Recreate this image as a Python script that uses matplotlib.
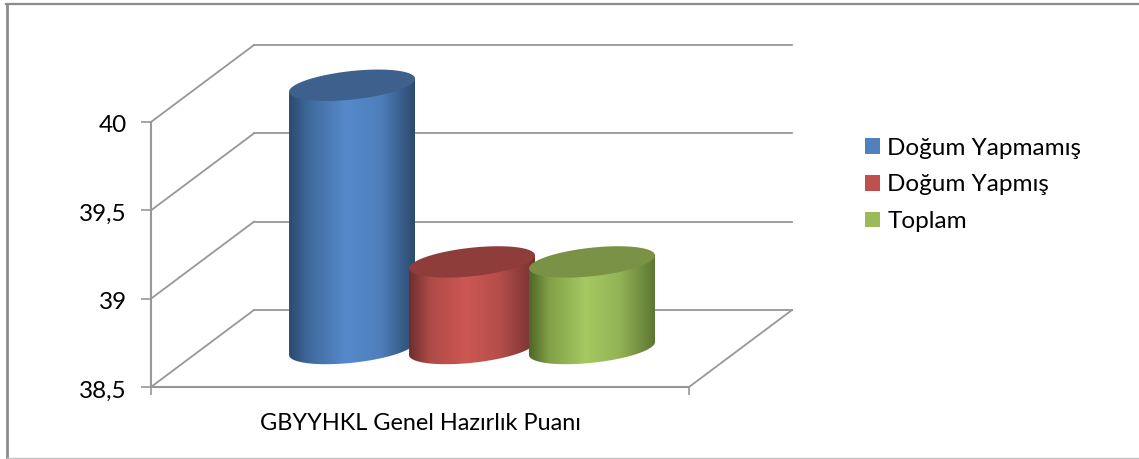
import numpy as np
import matplotlib
matplotlib.use('Agg')
import matplotlib.pyplot as plt
from matplotlib.colors import LinearSegmentedColormap
from matplotlib.lines import Line2D
from matplotlib.patches import Patch, PathPatch
from matplotlib.path import Path
from matplotlib.transforms import Affine2D, IdentityTransform

plt.rcParams['font.family'] = ['Lato', 'DejaVu Sans']

# Chart data
category = 'GBYYHKL Genel Hazırlık Puanı'
series_names = ['Doğum Yapmamış', 'Doğum Yapmış', 'Toplam']
series_values = [39.99, 38.99, 38.99]
y_ticks = [38.5, 39, 39.5, 40]
y_tick_labels = ['38,5', '39', '39,5', '40']

legend_colors = ['#4f81bd', '#c0504d', '#9bbb59']
top_colors = ['#3d608c', '#8f3d3b', '#7a9245']
side_colors = [
    ['#2b4a70', '#3f6a9e', '#5689cb', '#4f80bd', '#2c4a6e'],
    ['#6b2e2c', '#ad4a47', '#cd5753', '#b54d4a', '#743230'],
    ['#4e6727', '#82a046', '#a6c962', '#93b355', '#5d7732'],
]
grid_color = '#979797'
grid_lw = 1.3

W, H = 1139, 459
fig = plt.figure(figsize=(W / 100, H / 100), dpi=100)

# Front plane of the box, the floor and walls go back from it
left, right, bottom, top = 151, 689, 387, 122
ax = fig.add_axes([left / W, 1 - bottom / H, (right - left) / W, (bottom - top) / H])
ax.set_facecolor('none')
ax.set_xlim(0, 1)
ax.set_ylim(y_ticks[0], y_ticks[-1])

depth_x, depth_y = 103, 77
back = ax.transData + Affine2D().translate(depth_x, depth_y)
middle = ax.transData + Affine2D().translate(depth_x / 2, depth_y / 2)

# Back wall gridlines and the matching lines on the side wall
for v in y_ticks:
    ax.plot([0, 1], [v, v], color=grid_color, lw=grid_lw, transform=back, clip_on=False, zorder=1)
    x0, y0 = ax.transData.transform((0, v))
    x1, y1 = back.transform((0, v))
    ax.plot([x0, x1], [y0, y1], color=grid_color, lw=grid_lw, transform=IdentityTransform(),
            clip_on=False, zorder=1)

# Right edge of the floor
x0, y0 = ax.transData.transform((1, y_ticks[0]))
x1, y1 = back.transform((1, y_ticks[0]))
ax.plot([x0, x1], [y0, y1], color=grid_color, lw=grid_lw, transform=IdentityTransform(),
        clip_on=False, zorder=1)

for side in ['top', 'right']:
    ax.spines[side].set_visible(False)
for side in ['left', 'bottom']:
    ax.spines[side].set_color(grid_color)
    ax.spines[side].set_linewidth(1.5)

ax.set_yticks(y_ticks)
ax.set_yticklabels(y_tick_labels, fontsize=17.5, color='black')
ax.tick_params(axis='y', length=7.5, width=1.2, color=grid_color, pad=10)
ax.set_xticks([0, 1])
ax.set_xticklabels(['', ''])
ax.tick_params(axis='x', length=6, width=1.2, color=grid_color)
ax.set_xticks([0.5], [category], minor=True, fontsize=16.9)
ax.tick_params(axis='x', which='minor', length=0, pad=19)

# nudge the value labels down a little
for label in ax.get_yticklabels():
    label.set_transform(label.get_transform() + Affine2D().translate(0, -2))

# Cylinders
bar_positions = [0.278, 0.501, 0.724]
bar_half_width = 63
skew, minor_radius = 6.5, 14.3
t = np.linspace(0, 2 * np.pi, 181)


def ellipse(cx, cy, angles):
    return np.column_stack([cx + bar_half_width * np.cos(angles),
                            cy + skew * np.cos(angles) + minor_radius * np.sin(angles)])


for i, value in enumerate(series_values):
    cx, cy_low = middle.transform((bar_positions[i], y_ticks[0]))
    _, cy_high = middle.transform((bar_positions[i], value))

    # side of the cylinder: top ellipse's left end, around the lower half of the base, back up
    lower = ellipse(cx, cy_low, np.linspace(np.pi, 2 * np.pi, 91))
    verts = np.vstack([ellipse(cx, cy_high, np.array([np.pi])), lower,
                       ellipse(cx, cy_high, np.array([0.0])), ellipse(cx, cy_high, np.array([np.pi]))])
    clip = PathPatch(Path(verts), transform=IdentityTransform(), facecolor='none', edgecolor='none')
    ax.add_patch(clip)
    cmap = LinearSegmentedColormap.from_list(
        'side', list(zip([0, 0.16, 0.45, 0.72, 1], side_colors[i])))
    img = ax.imshow(np.linspace(0, 1, 256)[None, :], cmap=cmap, aspect='auto',
                    extent=(cx - bar_half_width, cx + bar_half_width, cy_low - 40, cy_high + 40),
                    transform=IdentityTransform(), zorder=3 + i)
    img.set_clip_box(fig.bbox)
    img.set_clip_path(clip)

    top_face = PathPatch(Path(ellipse(cx, cy_high, t)), transform=IdentityTransform(),
                         facecolor=top_colors[i], edgecolor='none', zorder=3 + i, clip_on=False)
    ax.add_patch(top_face)

ax.set_xlim(0, 1)
ax.set_ylim(y_ticks[0], y_ticks[-1])

handles = [Patch(facecolor=c, edgecolor='none') for c in legend_colors]
fig.legend(handles, series_names, loc='upper left', bbox_to_anchor=(860 / W, 1 - 133 / H),
           frameon=False, fontsize=17.5, handlelength=0.62, handleheight=0.62,
           handletextpad=0.3, labelspacing=0.64, borderpad=0.2, borderaxespad=0)

# Outer frame of the chart area, open on the right
frame_style = dict(transform=IdentityTransform(), color='#8c8c8c')
fig.add_artist(Line2D([7, 7], [H - 458, H - 4], lw=2.0, **frame_style))
fig.add_artist(Line2D([6, W], [H - 4, H - 4], lw=1.6, **frame_style))
fig.add_artist(Line2D([7, W], [H - 458, H - 458], lw=1.0, transform=IdentityTransform(), color='#c4c4c4'))

fig.savefig('out.png', dpi=100)
